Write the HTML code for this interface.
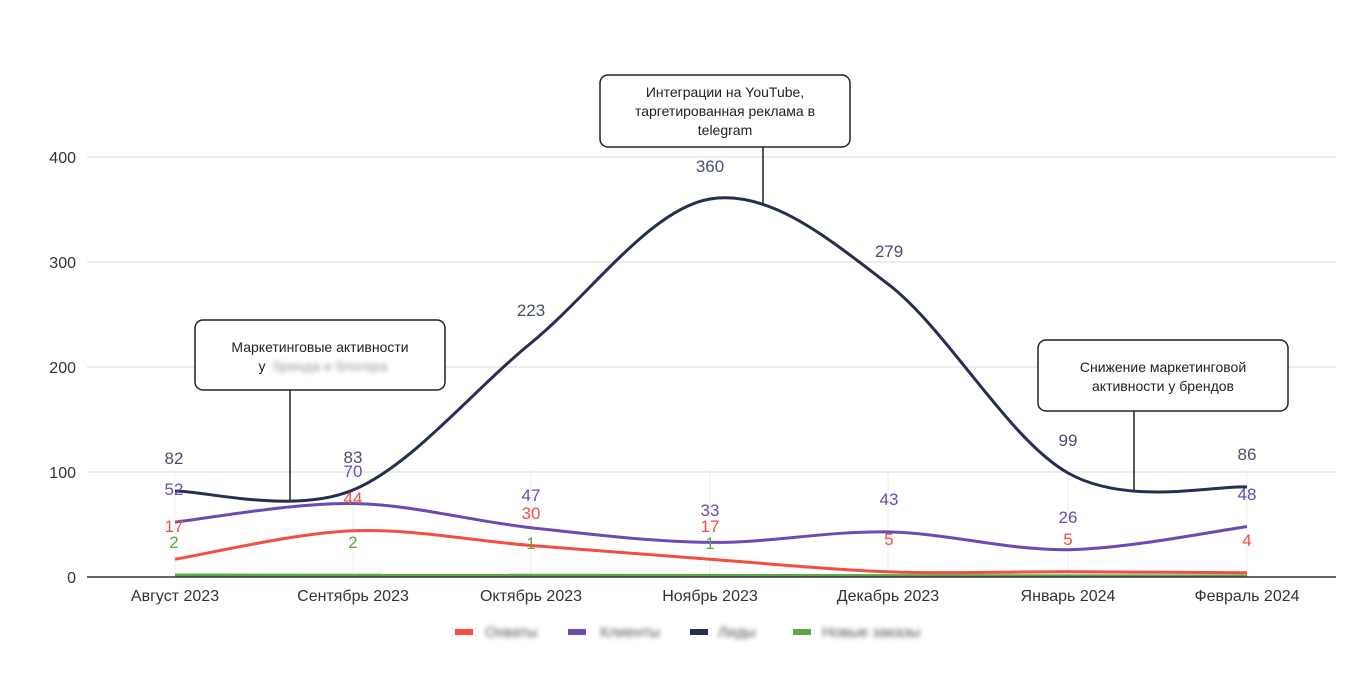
<!DOCTYPE html>
<html><head><meta charset="utf-8"><style>
body{margin:0;background:#fff;width:1360px;height:680px;overflow:hidden;font-family:"Liberation Sans",sans-serif}
.b{filter:blur(2.5px)}
</style></head><body>
<svg width="1360" height="680" xmlns="http://www.w3.org/2000/svg" font-family="Liberation Sans, sans-serif">
<g stroke="#d9d9d9" stroke-width="1">
<line x1="87" y1="157" x2="1336" y2="157"/><line x1="87" y1="262" x2="1336" y2="262"/>
<line x1="87" y1="367" x2="1336" y2="367"/><line x1="87" y1="472" x2="1336" y2="472"/>
</g>
<g stroke="#eeeeee" stroke-width="1">
<line x1="175" y1="470" x2="175" y2="577"/><line x1="353" y1="470" x2="353" y2="577"/><line x1="531" y1="470" x2="531" y2="577"/><line x1="710" y1="470" x2="710" y2="577"/><line x1="888" y1="470" x2="888" y2="577"/><line x1="1068" y1="470" x2="1068" y2="577"/><line x1="1247" y1="470" x2="1247" y2="577"/>
</g>
<g font-size="16" fill="#333" text-anchor="end">
<text x="76" y="163">400</text><text x="76" y="268">300</text><text x="76" y="373">200</text><text x="76" y="478">100</text><text x="76" y="583">0</text>
</g>
<path d="M175,575 L1247,576" stroke="#5ca846" stroke-width="3" fill="none"/>
<line x1="87" y1="577" x2="1336" y2="577" stroke="#333" stroke-width="1.5"/>
<path d="M175,559.2 C204.7,554.5 293.7,533.1 353,530.8 C412.3,528.5 471.5,540.8 531,545.5 C590.5,550.2 650.5,554.8 710,559.2 C769.5,563.6 828.3,569.7 888,571.8 C947.7,573.9 1008.2,571.6 1068,571.8 C1127.8,572 1217.2,572.6 1247,572.8" stroke="#f24e44" stroke-width="3" fill="none"/>
<path d="M175,522 C204.7,518.9 293.7,502.5 353,503.5 C412.3,504.5 471.5,521.2 531,527.7 C590.5,534.2 650.5,541.7 710,542.4 C769.5,543.1 828.3,530.7 888,531.9 C947.7,533.1 1008.2,550.6 1068,549.7 C1127.8,548.8 1217.2,530.5 1247,526.6" stroke="#6a4bb5" stroke-width="3" fill="none"/>
<path d="M175,491 C204.7,490.8 293.7,514.7 353,490 C412.3,465.3 471.5,391.5 531,343 C590.5,294.5 650.5,208.8 710,199 C769.5,189.2 828.3,238.3 888,284 C947.7,329.7 1008.2,439.2 1068,473 C1127.8,506.8 1217.2,484.7 1247,487" stroke="#252f4f" stroke-width="3" fill="none"/>
<g font-size="17" text-anchor="middle">
<g fill="#4a4f6e"><text x="174" y="464">82</text><text x="353" y="463">83</text><text x="531" y="316">223</text><text x="710" y="172">360</text><text x="889" y="257">279</text><text x="1068" y="446">99</text><text x="1247" y="460">86</text></g>
<g fill="#6a4bb5"><text x="174" y="495">52</text><text x="353" y="477">70</text><text x="531" y="501">47</text><text x="710" y="516">33</text><text x="889" y="505">43</text><text x="1068" y="523">26</text><text x="1247" y="500">48</text></g>
<g fill="#f24e44"><text x="174" y="532">17</text><text x="353" y="504">44</text><text x="531" y="519">30</text><text x="710" y="532">17</text><text x="889" y="545">5</text><text x="1068" y="545">5</text><text x="1247" y="546">4</text></g>
<g fill="#5ca846"><text x="174" y="548">2</text><text x="353" y="548">2</text><text x="531" y="549">1</text><text x="710" y="549">1</text></g>
</g>
<g font-size="16" fill="#333" text-anchor="middle">
<text x="175" y="601">Август 2023</text><text x="353" y="601">Сентябрь 2023</text><text x="531" y="601">Октябрь 2023</text><text x="710" y="601">Ноябрь 2023</text><text x="888" y="601">Декабрь 2023</text><text x="1068" y="601">Январь 2024</text><text x="1247" y="601">Февраль 2024</text>
</g>
<g stroke="#222" stroke-width="1.5" fill="#fff">
<line x1="290" y1="390" x2="290" y2="500"/><rect x="195" y="320" width="250" height="70" rx="8"/>
<line x1="763" y1="147" x2="763" y2="203"/><rect x="600" y="75" width="250" height="72" rx="8"/>
<line x1="1134" y1="411" x2="1134" y2="490"/><rect x="1038" y="340" width="250" height="71" rx="8"/>
</g>
<g font-size="14" fill="#222" text-anchor="middle">
<text x="320" y="352">Маркетинговые активности</text><text x="262" y="371">у</text>
<text x="725" y="97">Интеграции на YouTube,</text><text x="725" y="116">таргетированная реклама в</text><text x="725" y="135">telegram</text>
<text x="1163" y="372">Снижение маркетинговой</text><text x="1163" y="391">активности у брендов</text>
</g>
<text x="330" y="371" font-size="14" fill="#999" text-anchor="middle" class="b">бренда и блогера</text>
<rect x="455" y="629" width="18" height="6" fill="#f24e44"/><rect x="568" y="629" width="18" height="6" fill="#6a4bb5"/>
<rect x="690" y="629" width="18" height="6" fill="#252f4f"/><rect x="793" y="629" width="18" height="6" fill="#5ca846"/>
<g font-size="15" fill="#555" class="b">
<text x="485" y="637">Охваты</text><text x="600" y="637">Клиенты</text><text x="718" y="637">Лиды</text><text x="822" y="637">Новые заказы</text>
</g>
</svg>
</body></html>
